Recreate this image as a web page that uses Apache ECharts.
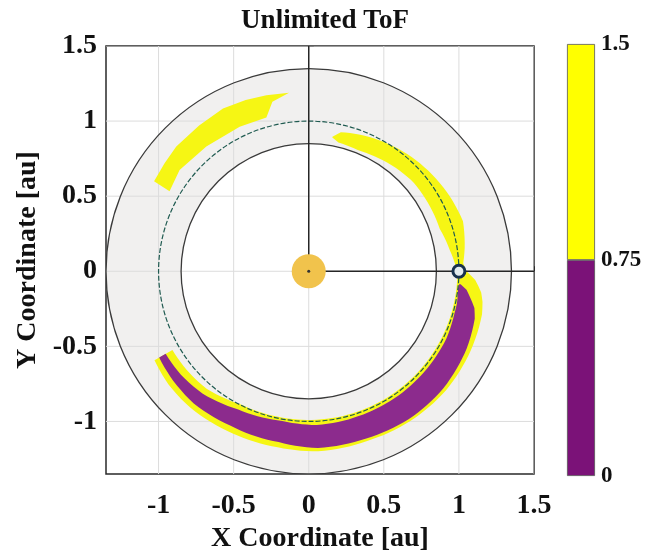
<!DOCTYPE html>
<html lang="en">
<head>
    <meta charset="UTF-8">
    <title>Unlimited ToF</title>
    <script src="https://cdn.jsdelivr.net/npm/echarts@6.0.0/dist/echarts.min.js"></script>
    <style>
        html, body { margin: 0; padding: 0; background: #fff; }
        #main { width: 651px; height: 553px; }
    </style>
</head>
<body>
<div id="main"></div>
<script type="text/javascript">
    // axis limits and ticks [au]
    var xLim = [-1.35, 1.5];
    var yLim = [-1.35, 1.5];
    var xTicks = [-1, -0.5, 0, 0.5, 1, 1.5];
    var yTicks = [-1, -0.5, 0, 0.5, 1, 1.5];

    // region boundaries and earth orbit
    var ringRadii = [0.85, 1.35];
    var orbitRadius = [1];
    var sunPos = [[0, 0]];
    var earthPos = [[1, 0]];
    // x1, y1, x2, y2
    var refLines = [[0, 0, 0, 1.5], [0, 0, 1.5, 0]];

    // upper-left patch, ToF > 0.75 (x, y)
    var patchNW = [
        [-1.03, 0.60], [-0.96, 0.72], [-0.882, 0.83], [-0.73, 0.97], [-0.571, 1.084],
        [-0.42, 1.14], [-0.282, 1.172], [-0.131, 1.188], [-0.242, 1.128], [-0.282, 1.024],
        [-0.46, 0.962], [-0.682, 0.83], [-0.86, 0.675], [-0.927, 0.532]
    ];
    // band along the orbit, ToF > 0.75 (angle deg, r inner, r outer)
    var bandYellow = [
        [80, 0.905, 0.91], [77, 0.88, 0.95], [68, 0.87, 0.975], [58, 0.885, 1.0],
        [50, 0.9, 1.02], [40, 0.915, 1.04], [30, 0.915, 1.06], [18, 0.917, 1.08],
        [8.5, 0.95, 1.05], [3, 0.975, 1.03], [0, 0.985, 1.05], [-3, 0.99, 1.11],
        [-7, 0.99, 1.157], [-10, 0.99, 1.175], [-14, 0.99, 1.189], [-26, 0.99, 1.201],
        [-41, 0.99, 1.21], [-56, 0.99, 1.205], [-71, 0.99, 1.195], [-87, 0.99, 1.2],
        [-100, 0.99, 1.19], [-117, 0.995, 1.193], [-131, 1.037, 1.203],
        [-141, 1.045, 1.2], [-150, 1.048, 1.186]
    ];
    // band along the orbit, ToF < 0.75
    var bandPurple = [
        [-4.9, 1.005, 1.015], [-6.7, 1.0, 1.058], [-9, 1.005, 1.086], [-12.5, 1.01, 1.13],
        [-16, 1.01, 1.15], [-26, 1.02, 1.171], [-41, 1.02, 1.188], [-56, 1.02, 1.189],
        [-71, 1.02, 1.177], [-87, 1.025, 1.178], [-100, 1.012, 1.155], [-117, 1.033, 1.153],
        [-131, 1.079, 1.167], [-141, 1.095, 1.16], [-150, 1.1, 1.15]
    ];

    // colorbar
    var cbCats = ['ToF'];
    var cbLow = [0.75];
    var cbHigh = [0.75];

    var serifFont = "'Liberation Serif', 'Times New Roman', serif";
    var yellow = '#f6f614';
    var purple = '#8c2b8d';

    function toXY(a, r) {
        var t = a * Math.PI / 180;
        return [r * Math.cos(t), r * Math.sin(t)];
    }

    // outer edge forward, inner edge back; arcs split into ~2 deg steps
    function bandPoints(band, api) {
        var outer = [], inner = [];
        for (var i = 0; i < band.length; i++) {
            var p = band[i], q = band[i + 1];
            var n = q ? Math.max(1, Math.ceil(Math.abs(q[0] - p[0]) / 2)) : 1;
            for (var s = 0; s < n; s++) {
                var t = q ? s / n : 0;
                var a = q ? p[0] + (q[0] - p[0]) * t : p[0];
                var ri = q ? p[1] + (q[1] - p[1]) * t : p[1];
                var ro = q ? p[2] + (q[2] - p[2]) * t : p[2];
                outer.push(api.coord(toXY(a, ro)));
                inner.push(api.coord(toXY(a, ri)));
            }
        }
        return outer.concat(inner.reverse());
    }

    function circleItem(fill, stroke, lw, dash) {
        return function (params, api) {
            var c = api.coord([0, 0]);
            var r = api.size([api.value(0), 0])[0];
            return {
                type: 'circle',
                shape: {cx: c[0], cy: c[1], r: r},
                style: {fill: fill, stroke: stroke, lineWidth: lw, lineDash: dash || null}
            };
        };
    }

    var myChart = echarts.init(document.getElementById('main'));

    var option = {
        backgroundColor: '#fff',
        animation: false,
        title: {
            text: 'Unlimited ToF',
            left: 320,
            textAlign: 'center',
            top: 3,
            textStyle: {fontFamily: serifFont, fontWeight: 'bold', fontSize: 27, color: '#111'}
        },
        grid: [
            {left: 106, top: 46, width: 428, height: 428, show: true, outerBoundsMode: 'none',
                backgroundColor: '#fff', borderColor: '#2a2a2a', borderWidth: 1.5},
            {left: 567, top: 44, width: 28, height: 432, outerBoundsMode: 'none'}
        ],
        xAxis: [{
            type: 'value', min: xLim[0], max: xLim[1],
            name: 'X Coordinate [au]', nameLocation: 'middle', nameGap: 51,
            nameTextStyle: {fontFamily: serifFont, fontWeight: 'bold', fontSize: 28, color: '#111'},
            axisLine: {show: false},
            axisTick: {show: true, inside: true, length: 5, customValues: xTicks, lineStyle: {color: '#2a2a2a'}},
            axisLabel: {customValues: xTicks, margin: 18, fontFamily: serifFont, fontWeight: 'bold', fontSize: 28, color: '#111'},
            splitLine: {show: false}
        }, {
            gridIndex: 1, type: 'category', data: cbCats, show: false
        }],
        yAxis: [{
            type: 'value', min: yLim[0], max: yLim[1],
            name: 'Y Coordinate [au]', nameLocation: 'middle', nameGap: 64,
            nameTextStyle: {fontFamily: serifFont, fontWeight: 'bold', fontSize: 28, color: '#111'},
            axisLine: {show: false},
            axisTick: {show: true, inside: true, length: 5, customValues: yTicks, lineStyle: {color: '#2a2a2a'}},
            axisLabel: {customValues: yTicks, margin: 9, fontFamily: serifFont, fontWeight: 'bold', fontSize: 28, color: '#111'},
            splitLine: {show: false}
        }, {
            gridIndex: 1, type: 'value', min: 0, max: 1.5, interval: 0.75, position: 'right',
            axisLine: {show: false}, axisTick: {show: false}, splitLine: {show: false},
            axisLabel: {margin: 6, fontFamily: serifFont, fontWeight: 'bold', fontSize: 23, color: '#111'}
        }],
        series: [
            {   // gray region between the two boundary circles
                type: 'custom', z: 1, clip: true, silent: true,
                data: [ringRadii[1], ringRadii[0]],
                renderItem: function (params, api) {
                    var fill = params.dataIndex === 0 ? '#f1f0ef' : '#ffffff';
                    return circleItem(fill, null, 0)(params, api);
                }
            },
            {   // grid lines
                type: 'custom', z: 2, clip: true, silent: true,
                data: xTicks.map(function (v) { return [v, 0]; }).concat(yTicks.map(function (v) { return [v, 1]; })),
                renderItem: function (params, api) {
                    var v = api.value(0);
                    var p1, p2;
                    if (api.value(1) === 0) {
                        p1 = api.coord([v, yLim[0]]); p2 = api.coord([v, yLim[1]]);
                    } else {
                        p1 = api.coord([xLim[0], v]); p2 = api.coord([xLim[1], v]);
                    }
                    return {type: 'line', shape: {x1: p1[0], y1: p1[1], x2: p2[0], y2: p2[1]},
                        style: {stroke: '#dcdcdc', lineWidth: 1}};
                }
            },
            {   // yellow patch upper left
                type: 'custom', z: 3, clip: true, silent: true,
                data: [[0]],
                renderItem: function (params, api) {
                    return {type: 'polygon',
                        shape: {points: patchNW.map(function (p) { return api.coord(p); })},
                        style: {fill: yellow}};
                }
            },
            {   // yellow band along orbit
                type: 'custom', z: 3, clip: true, silent: true,
                data: [[0]],
                renderItem: function (params, api) {
                    return {type: 'polygon', shape: {points: bandPoints(bandYellow, api)}, style: {fill: yellow}};
                }
            },
            {   // purple band
                type: 'custom', z: 4, clip: true, silent: true,
                data: [[0]],
                renderItem: function (params, api) {
                    return {type: 'polygon', shape: {points: bandPoints(bandPurple, api)}, style: {fill: purple}};
                }
            },
            {   // boundary circles
                type: 'custom', z: 5, clip: true, silent: true,
                data: ringRadii,
                renderItem: circleItem(null, '#3a3a3a', 1.3)
            },
            {   // earth orbit
                type: 'custom', z: 6, clip: true, silent: true,
                data: orbitRadius,
                renderItem: circleItem(null, '#1f5a50', 1.2, [5, 2])
            },
            {   // lines from the sun
                type: 'custom', z: 6, clip: true, silent: true,
                data: refLines,
                renderItem: function (params, api) {
                    var p1 = api.coord([api.value(0), api.value(1)]);
                    var p2 = api.coord([api.value(2), api.value(3)]);
                    return {type: 'line', shape: {x1: p1[0], y1: p1[1], x2: p2[0], y2: p2[1]},
                        style: {stroke: '#262626', lineWidth: 1.5}};
                }
            },
            {   // sun
                type: 'scatter', z: 7, silent: true, data: sunPos,
                symbol: 'circle', symbolSize: 34,
                itemStyle: {color: '#f1c34c', opacity: 1}
            },
            {
                type: 'scatter', z: 8, silent: true, data: sunPos,
                symbol: 'circle', symbolSize: 3,
                itemStyle: {color: '#333', opacity: 1}
            },
            {   // earth
                type: 'scatter', z: 8, silent: true, data: earthPos,
                symbol: 'circle', symbolSize: 12,
                itemStyle: {color: '#e4ecee', borderColor: '#18314d', borderWidth: 3, opacity: 1}
            },
            {   // colorbar
                type: 'bar', xAxisIndex: 1, yAxisIndex: 1, stack: 'cb', barWidth: '100%',
                data: cbLow, silent: true,
                itemStyle: {color: '#7b1278', borderColor: '#555', borderWidth: 0.8}
            },
            {
                type: 'bar', xAxisIndex: 1, yAxisIndex: 1, stack: 'cb', barWidth: '100%',
                data: cbHigh, silent: true,
                itemStyle: {color: '#ffff00', borderColor: '#555', borderWidth: 0.8}
            }
        ]
    };

    myChart.setOption(option);
</script>
</body>
</html>
